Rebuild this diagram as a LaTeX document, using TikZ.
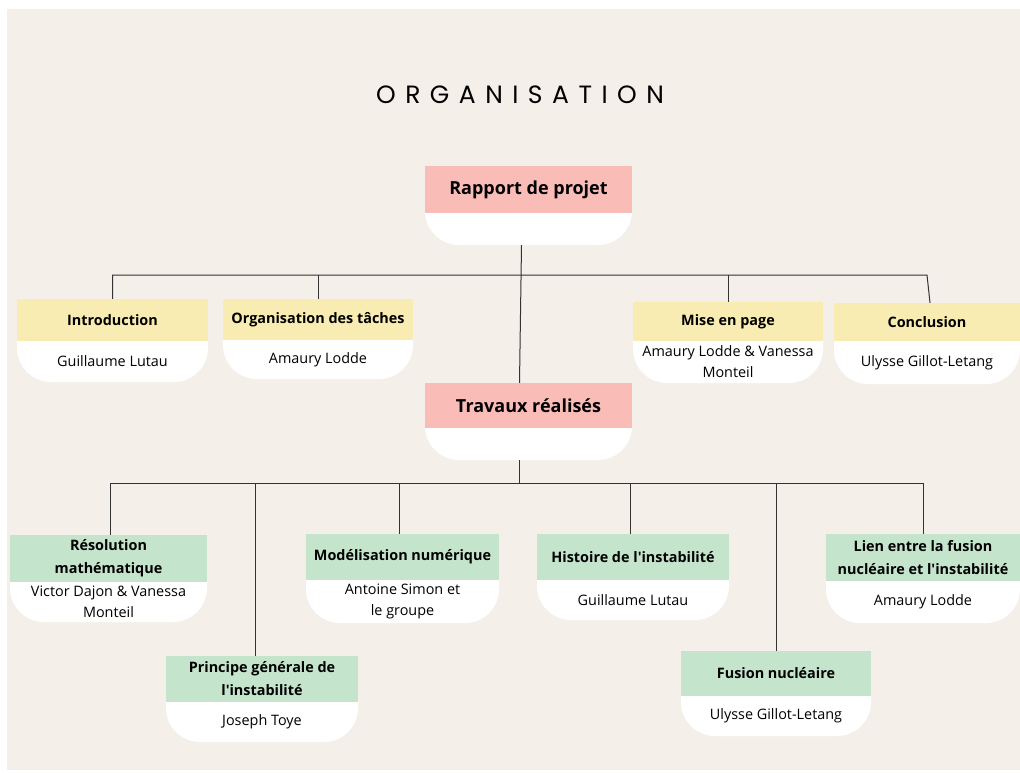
\documentclass[tikz,border=0pt]{standalone}
\usepackage{fontspec}
\setmainfont{Open Sans}[Ligatures=TeXOff]
\newfontfamily\titrefont[LetterSpace=38]{Poppins}
\usepackage{tikz}
\usetikzlibrary{fit}

\definecolor{fond}{RGB}{244,239,233}
\definecolor{rose}{RGB}{249,188,182}
\definecolor{jaune}{RGB}{248,236,178}
\definecolor{vert}{RGB}{196,229,204}
\definecolor{trait}{RGB}{51,51,51}

% #1 name, #2 left, #3 top, #4 right, #5 header bottom, #6 bottom, #7 colour, #8 title, #9 names
\newcommand{\carte}[9]{%
  \fill[white, rounded corners=34pt] (#2,#5-36) rectangle (#4,#6);
  \node[fit={(#2,#3) (#4,#5)}, inner sep=0pt, fill=#7] (#1) {};
  \node[fit={(#2,#5) (#4,#6)}, inner sep=0pt] (#1-bas) {};
  \node[tete] (#1-txt) at (#1.center) {#8};
  \node[nom] (#1-nom) at (#1-bas.center) {#9};
}

\begin{document}
\begin{tikzpicture}[x=1pt, y=-1pt,
    tete/.style={inner sep=0pt, align=center, font=\fontsize{14.4}{23}\selectfont\bfseries},
    nom/.style={inner sep=0pt, align=center, font=\fontsize{14.4}{21}\selectfont},
    lien/.style={draw=trait, line width=1pt}]
	\fill[white] (0,0) rectangle (1020,772);
	\fill[fond] (7,9) rectangle (1020,770);
	\node (titre) at (520,95) {\titrefont\fontsize{25}{25}\selectfont ORGANISATION};
	% level 0
	\carte{rapport}{425}{166}{632}{213}{245}{rose}{\fontsize{18}{22}\selectfont Rapport de projet}{}
	\carte{travaux}{425}{383}{632}{428}{460}{rose}{\fontsize{18}{22}\selectfont Travaux réalisés}{}
	% level 1
	\carte{intro}{17}{299}{208}{341}{382}{jaune}{Introduction}{Guillaume Lutau}
	\carte{orga}{223}{299}{413}{340}{379}{jaune}{Organisation des tâches}{Amaury Lodde}
	\carte{mise}{633}{302}{823}{341}{383}{jaune}{Mise en page}{Amaury Lodde \& Vanessa\\Monteil}
	\carte{conclu}{834}{303}{1020}{341}{384}{jaune}{Conclusion}{Ulysse Gillot-Letang}
	% level 2
	\carte{resol}{10}{535}{207}{582}{622}{vert}{Résolution\\mathématique}{Victor Dajon \& Vanessa\\Monteil}
	\carte{modeli}{306}{534}{499}{580}{623}{vert}{Modélisation numérique}{Antoine Simon et\\le groupe}
	\carte{princ}{166}{656}{358}{702}{742}{vert}{Principe générale de\\l'instabilité}{Joseph Toye}
	\carte{hist}{537}{534}{729}{580}{620}{vert}{Histoire de l'instabilité}{Guillaume Lutau}
	\carte{fusion}{681}{651}{871}{696}{736}{vert}{Fusion nucléaire}{Ulysse Gillot-Letang}
	\carte{lien}{826}{534}{1020}{581}{623}{vert}{Lien entre la fusion\\nucléaire et l'instabilité}{Amaury Lodde}
	% connectors
	\coordinate (barre1) at (0,275);
	\coordinate (barre2) at (0,483);
	\draw[lien] ([xshift=-7pt]rapport-bas.south) -- ([xshift=-9pt]travaux.north);
	\draw[lien] (intro.north) -- (intro.north |- barre1) -- (conclu.north |- barre1) -- ([xshift=3pt]conclu.north);
	\draw[lien] (orga.north) -- (orga.north |- barre1);
	\draw[lien] (mise.north) -- (mise.north |- barre1);
	\draw[lien] ([xshift=-9pt]travaux-bas.south) -- ([xshift=-9pt]travaux-bas.south |- barre2);
	\draw[lien] ([xshift=2pt]resol.north) -- ([xshift=2pt]resol.north |- barre2) -- (lien.north |- barre2) -- (lien.north);
	\draw[lien] ([xshift=-7pt]princ.north) -- ([xshift=-7pt]princ.north |- barre2);
	\draw[lien] ([xshift=-3pt]modeli.north) -- ([xshift=-3pt]modeli.north |- barre2);
	\draw[lien] ([xshift=-3pt]hist.north) -- ([xshift=-3pt]hist.north |- barre2);
	\draw[lien] (fusion.north) -- (fusion.north |- barre2);
\end{tikzpicture}
\end{document}
